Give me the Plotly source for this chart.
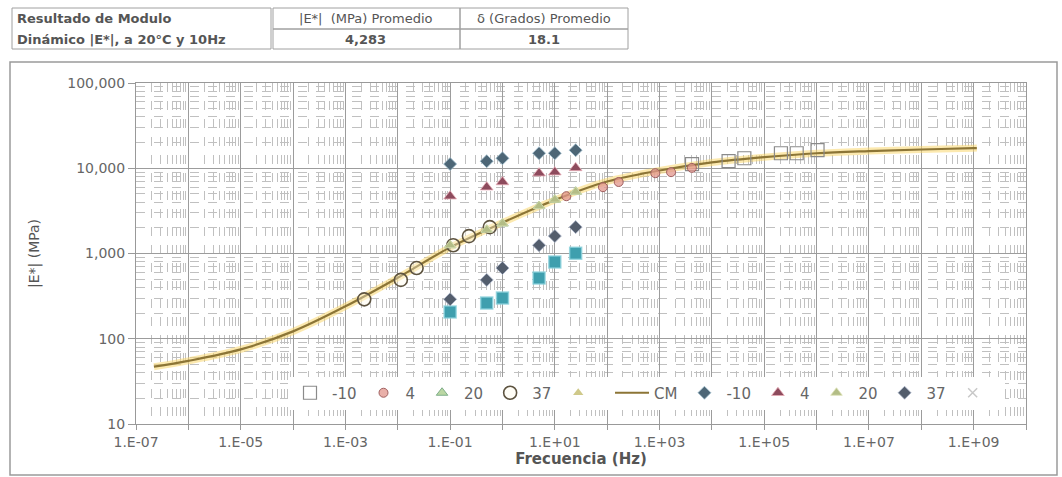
import plotly.graph_objects as go

# ---------------- data ----------------
freq = [0.1, 0.5, 1, 5, 10, 25]                      # test frequencies (Hz)
E_m10 = [11200, 12100, 13100, 15000, 15000, 16300]   # -10 C
E_4 = [4700, 6000, 6900, 8750, 9000, 10100]          # 4 C
E_20 = [1250, 1900, 2250, 3600, 4283, 5300]          # 20 C
E_37 = [290, 490, 675, 1250, 1600, 2040]             # 37 C
E_extra = [206, 262, 300, 515, 795, 1010]            # unlabeled teal series

# log10 shift factors read from the shifted points
logaT_m10 = 4.62
logaT_4 = 2.22
logaT_20 = 0.0
logaT_37 = -1.64

# master curve (CM)
cm_freq = [2.2e-7, 1e-6, 1e-5, 1e-4, 1e-3, 1e-2, 1e-1, 1, 10, 1e2, 1e3,
           1e4, 1e5, 1e6, 1e7, 1e8, 1e9, 1.15e9]
cm_E = [47, 55, 75, 122, 240, 520, 1180, 2300, 4250, 7000, 9400,
        11700, 13500, 15000, 15900, 16600, 17200, 17250]

x_tick_vals = [1e-7, 1e-6, 1e-5, 1e-4, 1e-3, 1e-2, 1e-1, 1, 10, 1e2, 1e3,
               1e4, 1e5, 1e6, 1e7, 1e8, 1e9, 1e10]
x_tick_text = ["1.E-07", "", "1.E-05", "", "1.E-03", "", "1.E-01", "", "1.E+01",
               "", "1.E+03", "", "1.E+05", "", "1.E+07", "", "1.E+09", ""]

table_head = ["Resultado de Modulo", "|E*|  (MPa) Promedio", "δ (Grados) Promedio"]
table_row = ["Dinámico |E*|, a 20°C y 10Hz", "4,283", "18.1"]


def shifted(logaT):
    return [f * 10 ** logaT for f in freq]


FONT = "DejaVu Sans"
fig = go.Figure()

# master curve glow + line
fig.add_trace(go.Scatter(x=cm_freq, y=cm_E, mode="lines", line=dict(color="rgba(250,215,110,0.55)", width=7, shape="spline"),
                         showlegend=False, hoverinfo="skip"))
fig.add_trace(go.Scatter(x=cm_freq, y=cm_E, mode="lines", name="CM", legendrank=6,
                         line=dict(color="#8c7536", width=2.2, shape="spline")))

# shifted data
fig.add_trace(go.Scatter(x=shifted(logaT_m10), y=E_m10, mode="markers", name="-10", legendrank=1,
                         marker=dict(symbol="square-open", size=13, color="#8a8a8a", line=dict(width=1.2))))
fig.add_trace(go.Scatter(x=shifted(logaT_4), y=E_4, mode="markers", name="4", legendrank=2,
                         marker=dict(symbol="circle", size=9, color="rgba(225,150,140,0.75)",
                                     line=dict(color="#a06060", width=1))))
fig.add_trace(go.Scatter(x=shifted(logaT_20), y=E_20, mode="markers", name="20", legendrank=3,
                         marker=dict(symbol="triangle-up", size=10, color="rgba(170,205,140,0.8)",
                                     line=dict(color="#7fae8a", width=1))))
fig.add_trace(go.Scatter(x=shifted(logaT_37), y=E_37, mode="markers", name="37", legendrank=4,
                         marker=dict(symbol="circle", size=13, color="rgba(255,250,230,0.35)",
                                     line=dict(color="#5d5340", width=1.6))))
fig.add_trace(go.Scatter(x=[None], y=[None], mode="markers", name=" ", legendrank=5,
                         marker=dict(symbol="triangle-up", size=9, color="#cfc98a")))

# raw data
fig.add_trace(go.Scatter(x=freq, y=E_extra, mode="markers", showlegend=False,
                         marker=dict(symbol="square", size=12, color="#3f9fae",
                                     line=dict(color="rgba(140,210,220,0.8)", width=1.5))))
fig.add_trace(go.Scatter(x=freq, y=E_m10, mode="markers", name="-10", legendrank=7,
                         marker=dict(symbol="diamond", size=10, color="#4d6676",
                                     line=dict(color="rgba(160,190,205,0.8)", width=1))))
fig.add_trace(go.Scatter(x=freq, y=E_4, mode="markers", name="4", legendrank=8,
                         marker=dict(symbol="triangle-up", size=11, color="#8d4b5d",
                                     line=dict(color="rgba(230,170,180,0.8)", width=1))))
fig.add_trace(go.Scatter(x=freq, y=E_20, mode="markers", name="20", legendrank=9,
                         marker=dict(symbol="triangle-up", size=10, color="#b3bd86",
                                     line=dict(color="rgba(220,225,180,0.8)", width=1))))
fig.add_trace(go.Scatter(x=freq, y=E_37, mode="markers", name="37", legendrank=10,
                         marker=dict(symbol="diamond", size=10, color="#535d6c",
                                     line=dict(color="rgba(170,180,200,0.8)", width=1))))
fig.add_trace(go.Scatter(x=[None], y=[None], mode="markers", name=" ", legendrank=11,
                         marker=dict(symbol="x-thin-open", size=9, color="#c8c8c8", line=dict(width=1.5))))

# ---------------- layout ----------------
L, R, T, B = 136, 36, 83, 53
W, H = 1062, 477
pw, ph = W - L - R, H - T - B


def px(x):
    return (x - L) / pw


def py(y):
    return (H - B - y) / ph


minor_vals = [k * 10 ** n for n in range(-7, 10) for k in range(2, 10)]

fig.update_layout(
    width=W, height=H, margin=dict(l=L, r=R, t=T, b=B),
    paper_bgcolor="white", plot_bgcolor="white",
    font=dict(family=FONT, size=13, color="#666"),
    xaxis=dict(type="log", range=[-7, 10], tickmode="array", tickvals=x_tick_vals, ticktext=x_tick_text,
               showgrid=True, gridcolor="#9c9c9c", gridwidth=1,
               minor=dict(tickmode="array", tickvals=minor_vals, showgrid=True, gridcolor="#c0c0c0",
                          griddash="dash", gridwidth=1),
               showline=True, linecolor="#999", mirror=True, ticks="outside", ticklen=5, tickcolor="#999",
               tickfont=dict(size=14, color="#666"), zeroline=False,
               title=dict(text="<b>Frecuencia (Hz)</b>", font=dict(size=15, color="#555"), standoff=4)),
    yaxis=dict(type="log", range=[1, 5], dtick=1, tickformat=",d",
               showgrid=True, gridcolor="#9c9c9c", gridwidth=1,
               minor=dict(dtick="D1", showgrid=True, gridcolor="#c0c0c0", griddash="dash", gridwidth=1),
               showline=True, linecolor="#999", mirror=True, ticks="outside", ticklen=7, tickcolor="#999",
               tickfont=dict(size=14, color="#666"), zeroline=False,
               title=dict(text="|E*| (MPa)", font=dict(size=14, color="#555"), standoff=24)),
    legend=dict(orientation="h", x=px(288), xanchor="left", y=py(393), yanchor="middle",
                bgcolor="white", font=dict(size=15, color="#666"), traceorder="normal", itemwidth=34),
    showlegend=True,
)

# outer frame of the chart
shapes = [
    dict(type="rect", xref="paper", yref="paper", x0=px(10), x1=px(1057), y0=py(475), y1=py(62),
         line=dict(color="#9a9a9a", width=1.5)),
]
# table borders
c0, c1, c2, c3 = 12, 271, 460, 628
r0, r1, r2 = 8, 29, 49
for (xa, xb, ya, yb) in [(c0, c1, r0, r2), (c1 + 2, c2, r0, r1), (c1 + 2, c2, r1, r2),
                         (c2, c3, r0, r1), (c2, c3, r1, r2)]:
    shapes.append(dict(type="rect", xref="paper", yref="paper", x0=px(xa), x1=px(xb), y0=py(yb), y1=py(ya),
                       line=dict(color="#a0a0a0", width=1)))
fig.update_layout(shapes=shapes)

ann = []
ann.append(dict(text="<b>" + table_head[0] + "</b>", x=px(15), y=py(18.5), xanchor="left", yanchor="middle"))
ann.append(dict(text="<b>" + table_row[0] + "</b>", x=px(15), y=py(39.5), xanchor="left", yanchor="middle"))
ann.append(dict(text=table_head[1], x=px((c1 + c2) / 2), y=py(18.5), xanchor="center", yanchor="middle"))
ann.append(dict(text="<b>" + table_row[1] + "</b>", x=px((c1 + c2) / 2), y=py(39.5), xanchor="center", yanchor="middle"))
ann.append(dict(text=table_head[2], x=px((c2 + c3) / 2), y=py(18.5), xanchor="center", yanchor="middle"))
ann.append(dict(text="<b>" + table_row[2] + "</b>", x=px((c2 + c3) / 2), y=py(39.5), xanchor="center", yanchor="middle"))
for a in ann:
    a.update(xref="paper", yref="paper", showarrow=False, font=dict(family=FONT, size=13, color="#555"))
fig.update_layout(annotations=ann)

fig.write_html("out.html", post_script="document.body.style.margin='0px';",
               config={"displayModeBar": False})
